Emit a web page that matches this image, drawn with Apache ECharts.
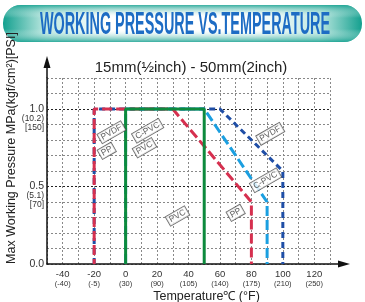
<!DOCTYPE html>
<html>
<head>
<meta charset="utf-8">
<script src="https://cdn.jsdelivr.net/npm/echarts@6/dist/echarts.min.js"></script>
<style>
  html, body { margin: 0; padding: 0; background: #fff; }
  #chart { width: 365px; height: 302px; }
</style>
</head>
<body>
<div id="chart"></div>
<script>
// temperature (degC) / pressure (MPa) outlines
var ppTemp = [-20, -20, 30, 80, 80];
var ppPress = [0, 1.0, 1.0, 0.4, 0];
var pvdfTemp = [-20, -20, 60, 100, 100];
var pvdfPress = [0, 1.0, 1.0, 0.6, 0];
var cpvcTemp = [0, 0, 50, 90, 90];
var cpvcPress = [0, 1.0, 1.0, 0.4, 0];
var pvcTemp = [0, 0, 50, 50];
var pvcPress = [0, 1.0, 1.0, 0];

// boxed names on the chart
var tagNames = ['PVDF', 'PP', 'C-PVC', 'PVC', 'PVC', 'PP', 'C-PVC', 'PVDF'];
var tagTemp = [-9, -12, 14, 12, 33, 70, 89, 92];
var tagPress = [0.85, 0.73, 0.86, 0.75, 0.31, 0.33, 0.54, 0.84];

// tick labels
var xTicks = [-40, -20, 0, 20, 40, 60, 80, 100, 120];
var xTicksF = ['(-40)', '(-5)', '(30)', '(90)', '(105)', '(140)', '(175)', '(210)', '(250)'];
var yTicks = [0, 0.5, 1.0];
var yTicksKgf = ['', '(5.1)', '(10.2)'];
var yTicksPsi = ['', '[70]', '[150]'];

function pairs(xs, ys) {
  return xs.map(function (x, i) { return [x, ys[i]]; });
}

var FONT = '"Liberation Sans", Arial, sans-serif';

function outline(name, xs, ys, color, dash, offset, z) {
  return {
    name: name,
    type: 'line',
    data: pairs(xs, ys),
    symbol: 'none',
    z: z,
    silent: true,
    lineStyle: { color: color, width: 3, type: dash, dashOffset: offset, cap: 'butt' }
  };
}

var chart = echarts.init(document.getElementById('chart'));

var option = {
  animation: false,
  backgroundColor: '#fff',
  textStyle: { fontFamily: FONT },
  grid: { left: 47, right: 35, top: 78, bottom: 38, containLabel: false, outerBoundsMode: 'none' },
  xAxis: {
    type: 'value',
    min: -50,
    max: 130,
    interval: 10,
    axisLine: { show: true, onZero: false, lineStyle: { color: '#111', width: 1.5 } },
    axisTick: { show: false },
    splitLine: { show: true, lineStyle: { color: '#888', type: [2, 2], width: 1 } },
    axisLabel: {
      margin: 5,
      formatter: function (v) {
        var i = xTicks.indexOf(Math.round(v));
        if (i < 0) return '';
        return '{a|' + xTicks[i] + '}\n{b|' + xTicksF[i] + '}';
      },
      rich: {
        a: { fontSize: 9.5, color: '#333', lineHeight: 10, fontFamily: FONT },
        b: { fontSize: 7.5, color: '#333', lineHeight: 9, fontFamily: FONT }
      }
    },
    name: 'Temperature℃ (°F)',
    nameLocation: 'middle',
    nameMoveOverlap: false,
    nameGap: 26,
    nameTextStyle: { fontSize: 12.5, color: '#222', padding: [0, 0, 0, 36] }
  },
  yAxis: {
    type: 'value',
    min: 0,
    max: 1.2,
    interval: 0.1,
    axisLine: { show: true, onZero: false, lineStyle: { color: '#111', width: 1.5 } },
    axisTick: { show: false },
    splitLine: { show: true, lineStyle: { color: '#888', type: [2, 2], width: 1 } },
    axisLabel: {
      margin: 3,
      formatter: function (v) {
        for (var i = 0; i < yTicks.length; i++) {
          if (Math.abs(v - yTicks[i]) < 1e-6) {
            if (!yTicksKgf[i]) return '{a|' + yTicks[i].toFixed(1) + '}';
            return '{s| }\n{s| }\n{a|' + yTicks[i].toFixed(1) + '}\n{b|' + yTicksKgf[i] + '}\n{b|' + yTicksPsi[i] + '}';
          }
        }
        return '';
      },
      rich: {
        a: { fontSize: 10.5, color: '#333', lineHeight: 10, fontFamily: FONT, align: 'right' },
        b: { fontSize: 8.5, color: '#333', lineHeight: 9, fontFamily: FONT, align: 'right' },
        s: { fontSize: 8, lineHeight: 9 }
      }
    },
    name: 'Max Working Pressure MPa(kgf/cm²)[PSI]',
    nameLocation: 'middle',
    nameMoveOverlap: false,
    nameGap: 29,
    nameTextStyle: { fontSize: 12.5, color: '#222', padding: [0, 0, 0, 46] }
  },
  series: [
    outline('PVDF', pvdfTemp, pvdfPress, '#1f4ea6', [6, 4], 0, 2),
    outline('C-PVC', cpvcTemp, cpvcPress, '#1b9fe0', [10, 4], 0, 3),
    outline('PP', ppTemp, ppPress, '#d6304f', [10, 4], 5, 4),
    {
      name: 'PVC',
      type: 'line',
      data: pairs(pvcTemp, pvcPress),
      symbol: 'none',
      z: 5,
      silent: true,
      lineStyle: { color: '#0d8a3d', width: 3 },
      markLine: {
        silent: true,
        symbol: 'none',
        label: { show: false },
        lineStyle: { color: '#222', type: [2, 2], width: 1 },
        data: [{ yAxis: 0.5 }, { yAxis: 1.0 }],
        z: 1
      }
    },
    {
      name: 'tags',
      type: 'scatter',
      z: 6,
      silent: true,
      symbolSize: 1,
      itemStyle: { color: 'rgba(0,0,0,0)' },
      data: tagNames.map(function (n, i) { return [tagTemp[i], tagPress[i], n]; }),
      label: {
        show: true,
        position: 'inside',
        rotate: 30,
        formatter: function (p) { return p.data[2]; },
        fontSize: 8.5,
        color: '#333',
        fontFamily: FONT,
        backgroundColor: '#fff',
        borderColor: '#444',
        borderWidth: 0.8,
        padding: [1, 2, 0, 2]
      }
    }
  ],
  graphic: [
    {
      type: 'rect',
      shape: { x: 3, y: 5, width: 359, height: 37, r: 18 },
      style: {
        fill: new echarts.graphic.LinearGradient(0, 0, 1, 0, [
          { offset: 0, color: '#14a08f' },
          { offset: 0.12, color: '#bfe9e2' },
          { offset: 0.3, color: '#ffffff' },
          { offset: 0.7, color: '#ffffff' },
          { offset: 0.88, color: '#bfe9e2' },
          { offset: 1, color: '#14a08f' }
        ])
      }
    },
    {
      type: 'rect',
      shape: { x: 3, y: 5, width: 359, height: 37, r: 18 },
      style: {
        fill: new echarts.graphic.LinearGradient(0, 0, 0, 1, [
          { offset: 0, color: 'rgba(20,160,143,0.85)' },
          { offset: 0.35, color: 'rgba(255,255,255,0)' },
          { offset: 0.65, color: 'rgba(255,255,255,0)' },
          { offset: 1, color: 'rgba(20,160,143,0.85)' }
        ])
      }
    },
    {
      type: 'text',
      x: 185,
      y: 25,
      scaleX: 0.48,
      scaleY: 1.05,
      originX: 0,
      originY: 0,
      style: {
        text: 'WORKING PRESSURE VS.TEMPERATURE',
        fill: '#1d6cc4',
        font: 'bold 30px "Liberation Sans Narrow", "Liberation Sans", Arial, sans-serif',
        align: 'center',
        verticalAlign: 'middle'
      }
    },
    {
      type: 'text',
      x: 191,
      y: 68,
      style: {
        text: '15mm(½inch) - 50mm(2inch)',
        fill: '#222',
        font: '15px "Liberation Sans", Arial, sans-serif',
        align: 'center',
        verticalAlign: 'middle'
      }
    }
  ]
};

chart.setOption(option);

// extend both axes past the grid with arrow heads
var origin = chart.convertToPixel({ gridIndex: 0 }, [-50, 0]);
var xEnd = chart.convertToPixel({ gridIndex: 0 }, [130, 0]);
var yEnd = chart.convertToPixel({ gridIndex: 0 }, [-50, 1.2]);
chart.setOption({
  graphic: option.graphic.concat([
    { type: 'line', shape: { x1: xEnd[0], y1: xEnd[1], x2: xEnd[0] + 10, y2: xEnd[1] }, style: { stroke: '#111', lineWidth: 1.5 } },
    { type: 'polygon', shape: { points: [[xEnd[0] + 8, xEnd[1] - 3.5], [xEnd[0] + 20, xEnd[1]], [xEnd[0] + 8, xEnd[1] + 3.5]] }, style: { fill: '#111' } },
    { type: 'line', shape: { x1: origin[0], y1: yEnd[1], x2: origin[0], y2: yEnd[1] - 12 }, style: { stroke: '#111', lineWidth: 1.5 } },
    { type: 'polygon', shape: { points: [[origin[0] - 3.5, yEnd[1] - 10], [origin[0], yEnd[1] - 22], [origin[0] + 3.5, yEnd[1] - 10]] }, style: { fill: '#111' } }
  ])
});
</script>
</body>
</html>
